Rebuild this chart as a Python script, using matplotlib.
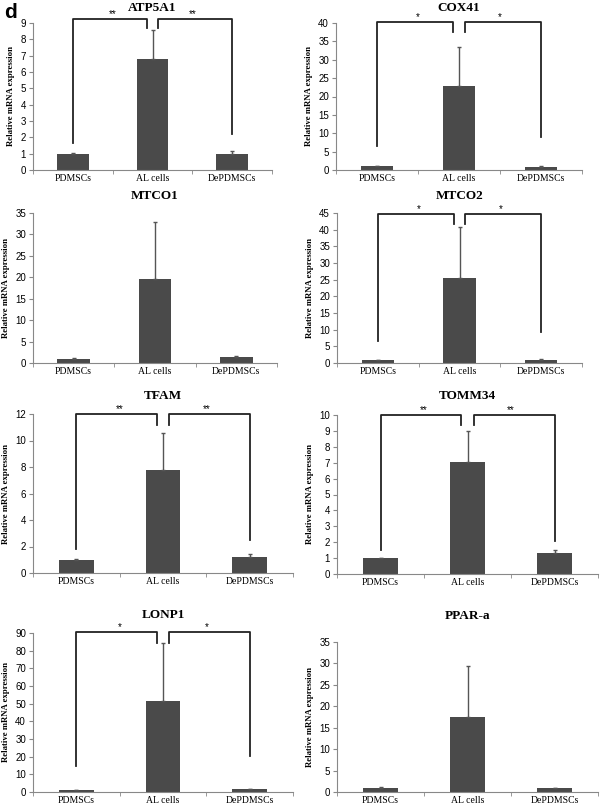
import matplotlib
matplotlib.use("Agg")
import matplotlib.pyplot as plt
import matplotlib.transforms as mtransforms

groups = ["PDMSCs", "AL cells", "DePDMSCs"]

genes = ["ATP5A1", "COX41", "MTCO1", "MTCO2", "TFAM", "TOMM34", "LONP1", "PPAR-a"]
means = {
    "ATP5A1": [1.0, 6.8, 1.0],
    "COX41": [1.0, 22.8, 0.9],
    "MTCO1": [1.0, 19.5, 1.4],
    "MTCO2": [0.9, 25.4, 0.9],
    "TFAM": [1.0, 7.8, 1.2],
    "TOMM34": [1.0, 7.05, 1.3],
    "LONP1": [1.0, 51.5, 1.5],
    "PPAR-a": [1.0, 17.6, 0.9],
}
errs = {
    "ATP5A1": [0.03, 1.75, 0.15],
    "COX41": [0.1, 10.7, 0.2],
    "MTCO1": [0.1, 13.5, 0.15],
    "MTCO2": [0.1, 15.4, 0.3],
    "TFAM": [0.03, 2.75, 0.25],
    "TOMM34": [0.03, 1.95, 0.2],
    "LONP1": [0.2, 33.0, 0.3],
    "PPAR-a": [0.1, 11.8, 0.15],
}
ymax = {"ATP5A1": 9, "COX41": 40, "MTCO1": 35, "MTCO2": 45,
        "TFAM": 12, "TOMM34": 10, "LONP1": 90, "PPAR-a": 35}
ystep = {"ATP5A1": 1, "COX41": 5, "MTCO1": 5, "MTCO2": 5,
         "TFAM": 2, "TOMM34": 1, "LONP1": 10, "PPAR-a": 5}
# significance brackets: (top, left leg end, right leg end, inner end, stars)
brackets = {
    "ATP5A1": (9.25, 1.65, 2.2, 8.7, "**"),
    "COX41": (40.3, 6.5, 9.0, 37.6, "*"),
    "MTCO2": (44.7, 6.6, 9.3, 41.7, "*"),
    "TFAM": (12.0, 1.8, 2.5, 11.2, "**"),
    "TOMM34": (10.0, 1.5, 2.1, 9.35, "**"),
    "LONP1": (90.4, 14.7, 20.4, 84.5, "*"),
}

# layout in pixels: axes box (left, top, right, bottom) and title height
W, H = 600, 807
boxes = {
    "ATP5A1": (33, 23, 272, 170),
    "COX41": (336, 23, 582, 170),
    "MTCO1": (33, 213, 277, 363),
    "MTCO2": (337, 213, 582, 363),
    "TFAM": (33, 414, 293, 573),
    "TOMM34": (337, 415, 598, 574),
    "LONP1": (33, 633, 293, 792),
    "PPAR-a": (337, 642, 598, 792),
}
title_y = {"ATP5A1": 8, "COX41": 8, "MTCO1": 196, "MTCO2": 196,
           "TFAM": 396, "TOMM34": 396, "LONP1": 615, "PPAR-a": 616}

bar_color = "#4a4a4a"
serif = ["Liberation Serif", "DejaVu Serif"]
sans = ["Liberation Sans", "DejaVu Sans"]

fig = plt.figure(figsize=(6, 8.07), dpi=100)

for g in genes:
    l, t, r, b = boxes[g]
    ax = fig.add_axes([l / W, 1 - b / H, (r - l) / W, (b - t) / H])
    x = range(len(groups))
    ax.bar(x, means[g], width=0.4, color=bar_color,
           yerr=[[0] * 3, errs[g]], error_kw=dict(ecolor="#555555", elinewidth=1, capsize=1.5, capthick=1))
    ax.set_xlim(-0.5, 2.5)
    ax.set_ylim(0, ymax[g])
    ax.set_yticks(range(0, ymax[g] + 1, ystep[g]))
    ax.set_xticks(list(x))
    ax.set_xticklabels(groups, fontfamily=serif, fontsize=7)
    ax.set_xticks([-0.5, 0.5, 1.5, 2.5], minor=True)
    ax.tick_params(axis="x", which="major", length=0, pad=3)
    ax.tick_params(axis="x", which="minor", length=3, color="#888888")
    ax.tick_params(axis="y", length=3, color="#888888", labelsize=7, pad=2)
    for lab in ax.get_yticklabels():
        lab.set_fontfamily(sans)
    for s in ["top", "right"]:
        ax.spines[s].set_visible(False)
    for s in ["left", "bottom"]:
        ax.spines[s].set_color("#888888")
        ax.spines[s].set_linewidth(0.8)
    ax.set_ylabel("Relative mRNA expression", fontfamily=serif, fontweight="bold", fontsize=6.3, labelpad=4)

    trans = mtransforms.blended_transform_factory(ax.transData, fig.transFigure)
    ax.text(1, 1 - title_y[g] / H, g, transform=trans, ha="center", va="center",
            fontfamily=serif, fontweight="bold", fontsize=9.5, clip_on=False)

    if g in brackets:
        top, lleg, rleg, inner, stars = brackets[g]
        kw = dict(color="#222222", lw=1.3, clip_on=False)
        ax.plot([0, 0, 0.93, 0.93], [lleg, top, top, inner], **kw)
        ax.plot([2, 2, 1.07, 1.07], [rleg, top, top, inner], **kw)
        ax.text(0.5, top, stars, ha="center", va="bottom", fontsize=7, fontfamily=sans, clip_on=False)
        ax.text(1.5, top, stars, ha="center", va="bottom", fontsize=7, fontfamily=sans, clip_on=False)

fig.text(4 / W, 1 - 13 / H, "d", fontsize=15, fontweight="bold", fontfamily=sans, va="center")

fig.savefig("out.png", dpi=100)
